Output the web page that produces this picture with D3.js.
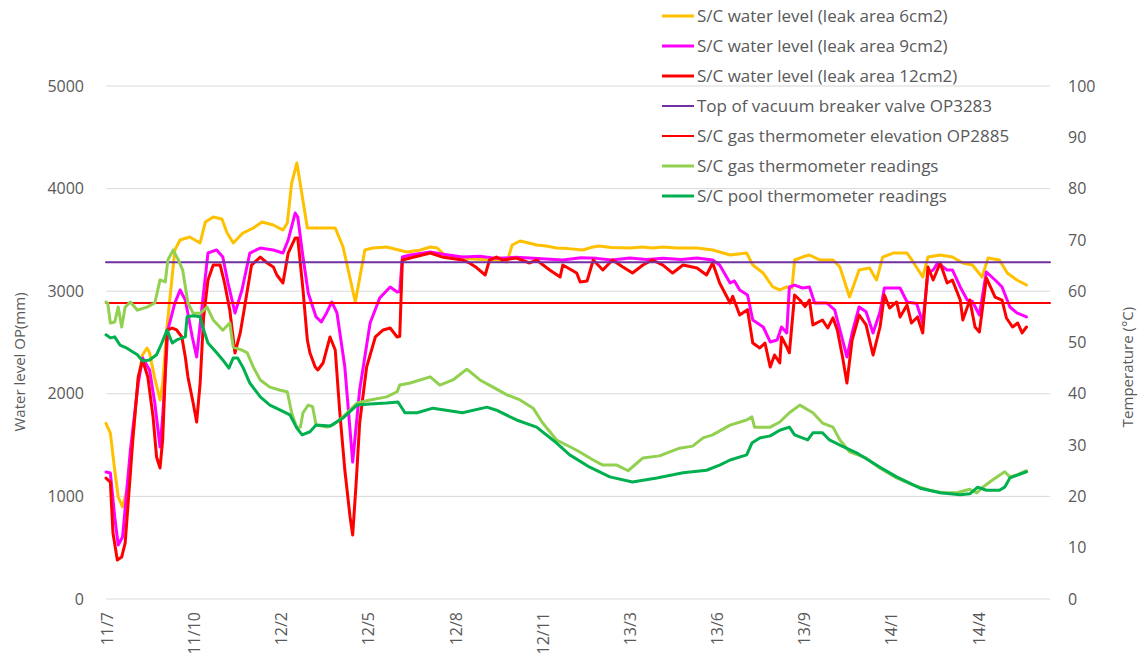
<!DOCTYPE html>
<html>
<head>
<meta charset="utf-8">
<script src="https://cdn.jsdelivr.net/npm/d3@7"></script>
<style>
  html, body { margin: 0; padding: 0; background: #ffffff; }
  svg { display: block; }
  text { font-family: "Open Sans", "DejaVu Sans", sans-serif; fill: #595959; }
</style>
</head>
<body>
<svg id="chart" width="1144" height="662"></svg>
<script>
// ---------------- DATA ----------------
// x values are days after 2011-07-16; left axis water level (mm), right axis temperature (°C)
const startDate = "2011-07-16";
const endDate = "2014-07-03";

const tickDates = ["2011-07-17","2011-10-25","2012-02-02","2012-05-12","2012-08-20","2012-11-28",
                   "2013-03-08","2013-06-16","2013-09-24","2014-01-02","2014-04-12"];
const tickLabels = ["11/7","11/10","12/2","12/5","12/8","12/11","13/3","13/6","13/9","14/1","14/4"];

const leftTicks = [0, 1000, 2000, 3000, 4000, 5000];
const rightTicks = [0, 10, 20, 30, 40, 50, 60, 70, 80, 90, 100];

const seriesNames = [
  "S/C water level (leak area 6cm2)",
  "S/C water level (leak area 9cm2)",
  "S/C water level (leak area 12cm2)",
  "Top of vacuum breaker valve OP3283",
  "S/C gas thermometer elevation OP2885",
  "S/C gas thermometer readings",
  "S/C pool thermometer readings"
];

const level6 = [[0,1712],[5,1617],[10,1257],[14,994],[19,897],[24,1062],[31,1580],[37,2150],[42,2380],[47,2446],[50,2400],[56,2150],[62,1940],[65,2100],[70,2651],[79,3402],[85,3499],[96,3528],[108,3470],[114,3675],[123,3723],[133,3703],[139,3567],[146,3470],[157,3567],[169,3616],[179,3675],[192,3645],[203,3596],[208,3665],[213,4054],[219,4250],[224,3986],[231,3616],[243,3616],[263,3616],[272,3431],[286,2895],[297,3402],[306,3421],[322,3431],[345,3382],[360,3400],[372,3431],[380,3421],[391,3333],[410,3320],[430,3310],[448,3304],[460,3285],[466,3450],[475,3489],[485,3470],[494,3450],[505,3440],[517,3421],[530,3415],[547,3402],[556,3425],[565,3440],[580,3425],[601,3421],[615,3430],[627,3420],[639,3431],[655,3420],[678,3421],[696,3402],[716,3353],[735,3372],[742,3255],[754,3177],[765,3041],[773,3012],[781,3041],[787,3031],[790,3304],[799,3333],[807,3353],[819,3304],[834,3304],[842,3236],[853,2943],[864,3207],[876,3226],[884,3109],[891,3333],[903,3372],[919,3372],[926,3285],[937,3138],[943,3333],[957,3353],[971,3333],[983,3275],[994,3255],[1005,3138],[1012,3323],[1025,3304],[1034,3177],[1045,3109],[1056,3060]];

const level9 = [[0,1238],[5,1228],[10,800],[14,526],[19,604],[28,1452],[37,2105],[42,2349],[50,2232],[56,1910],[62,1481],[65,1774],[71,2622],[79,2885],[85,3012],[91,2914],[99,2554],[104,2359],[111,2914],[117,3372],[127,3402],[134,3333],[140,3080],[148,2788],[156,3012],[165,3372],[177,3421],[192,3402],[203,3372],[209,3499],[217,3762],[220,3723],[226,3333],[232,2982],[241,2749],[247,2700],[253,2788],[259,2895],[265,2788],[274,2261],[283,1335],[291,2037],[303,2690],[314,2934],[326,3041],[334,2992],[337,3000],[340,3333],[349,3353],[372,3382],[387,3360],[409,3333],[429,3340],[448,3320],[470,3330],[486,3323],[505,3315],[524,3304],[545,3325],[563,3320],[580,3305],[601,3323],[620,3310],[639,3320],[660,3310],[678,3323],[696,3304],[704,3255],[716,3080],[721,3100],[727,3012],[736,2963],[742,2719],[754,2651],[762,2505],[770,2524],[775,2651],[781,2593],[784,3041],[790,3060],[799,3031],[807,3041],[813,2885],[827,2885],[836,2817],[842,2622],[850,2359],[856,2593],[864,2846],[872,2800],[880,2593],[888,2800],[893,3031],[903,3031],[911,3031],[919,2895],[930,2880],[937,2690],[943,3177],[949,3207],[954,3275],[965,3207],[971,3207],[980,3041],[988,2914],[994,2900],[1002,2768],[1010,3187],[1020,3109],[1028,3041],[1037,2846],[1045,2788],[1056,2749]];

const level12 = [[0,1179],[5,1140],[8,643],[13,380],[18,409],[22,546],[28,1228],[31,1579],[37,2164],[42,2330],[48,2164],[54,1774],[58,1384],[62,1277],[65,1550],[70,2622],[76,2641],[81,2622],[87,2554],[91,2359],[94,2164],[100,1910],[104,1725],[108,2105],[112,2749],[117,3109],[123,3255],[131,3255],[136,3080],[142,2817],[148,2398],[154,2593],[159,2846],[167,3255],[177,3333],[185,3275],[192,3236],[196,3158],[203,3080],[209,3372],[217,3518],[220,3518],[226,3012],[231,2524],[234,2398],[240,2261],[243,2232],[249,2300],[257,2554],[263,2427],[268,1842],[274,1257],[280,800],[283,624],[287,1131],[291,1715],[299,2261],[309,2554],[318,2622],[326,2641],[334,2554],[337,2560],[340,3304],[349,3323],[372,3372],[387,3330],[409,3304],[417,3275],[425,3230],[435,3158],[440,3304],[448,3333],[455,3304],[471,3323],[486,3275],[494,3304],[509,3207],[521,3138],[524,3255],[540,3177],[544,3090],[552,3100],[559,3304],[570,3207],[581,3304],[593,3236],[604,3177],[616,3255],[627,3304],[639,3255],[650,3177],[662,3255],[678,3226],[689,3158],[696,3275],[704,3080],[716,2885],[719,2950],[727,2768],[736,2820],[742,2495],[750,2446],[756,2495],[762,2261],[767,2378],[773,2300],[775,2554],[781,2456],[784,2400],[790,2963],[796,2914],[802,2850],[807,2914],[811,2671],[822,2719],[828,2641],[834,2740],[839,2622],[845,2359],[850,2105],[856,2524],[864,2768],[872,2671],[880,2378],[888,2651],[893,2963],[899,2836],[907,2895],[911,2749],[919,2865],[924,2690],[931,2749],[937,2593],[943,3236],[949,3109],[957,3275],[965,3080],[971,3109],[980,2914],[983,2719],[991,2914],[997,2651],[1002,2602],[1010,3129],[1020,2943],[1028,2914],[1033,2739],[1040,2651],[1046,2690],[1051,2593],[1056,2651]];

const vacuumBreakerTop = 3283;
const gasThermometerElevation = 2885;

const gasTemp = [[0,57.9],[2,57.7],[5,53.8],[10,54.0],[14,56.9],[18,53.0],[22,56.9],[28,57.9],[36,56.3],[47,56.9],[56,57.7],[62,62.2],[68,61.8],[71,66.1],[77,68.0],[83,66.1],[88,64.1],[94,57.7],[100,55.7],[108,55.7],[116,56.9],[123,54.4],[134,52.4],[142,53.8],[146,49.1],[156,48.5],[162,48.0],[169,45.2],[177,42.7],[188,41.3],[200,40.7],[208,40.4],[213,36.3],[219,33.3],[223,33.5],[226,36.3],[232,37.8],[237,37.5],[241,33.9],[253,33.5],[260,33.9],[272,35.5],[288,38.2],[303,38.8],[322,39.4],[334,40.4],[337,41.7],[349,42.1],[372,43.3],[383,41.7],[398,42.7],[414,44.8],[429,42.7],[444,41.3],[460,39.8],[475,38.8],[490,37.2],[501,34.3],[517,31.0],[540,29.0],[559,27.1],[570,26.1],[586,26.1],[599,25.0],[616,27.5],[635,27.9],[658,29.4],[673,29.8],[685,31.4],[696,32.0],[716,33.9],[735,34.9],[741,35.5],[744,33.5],[762,33.5],[773,34.5],[784,36.3],[796,37.8],[811,36.3],[822,34.3],[834,33.5],[842,31.0],[853,28.7],[872,27.5],[888,25.5],[907,23.6],[926,22.2],[945,21.2],[960,20.7],[976,20.7],[991,21.4],[999,20.7],[1006,21.8],[1017,23.2],[1031,24.8],[1037,23.8],[1045,24.2],[1056,25.0]];

const poolTemp = [[0,51.5],[5,50.9],[10,51.1],[16,49.5],[24,48.9],[36,47.6],[42,46.4],[50,46.6],[58,47.6],[64,49.9],[70,52.4],[76,49.9],[81,50.5],[91,51.1],[93,55.0],[100,55.2],[108,55.0],[111,53.0],[117,49.9],[127,48.0],[134,46.6],[141,45.0],[146,47.0],[151,47.0],[157,45.2],[165,42.1],[177,39.4],[188,37.8],[200,36.8],[211,35.9],[219,33.3],[225,32.0],[234,32.6],[241,33.9],[257,33.7],[272,35.3],[288,37.8],[303,38.0],[322,38.2],[335,38.4],[343,36.3],[357,36.3],[375,37.2],[409,36.3],[437,37.4],[448,36.8],[471,34.9],[494,33.5],[517,30.4],[532,28.1],[555,25.7],[578,23.8],[604,22.8],[632,23.6],[662,24.6],[689,25.1],[704,26.1],[716,27.1],[735,28.1],[741,30.4],[750,31.4],[762,31.8],[773,32.9],[784,33.5],[790,32.0],[805,31.0],[811,32.4],[822,32.4],[830,31.0],[842,30.0],[861,28.5],[888,25.7],[907,23.8],[934,21.6],[957,20.7],[980,20.3],[991,20.5],[1000,21.8],[1010,21.2],[1025,21.2],[1031,21.8],[1037,23.6],[1056,24.8]];

const colors = ["#FFC000", "#FF00FF", "#FF0000", "#7030A0", "#FF0000", "#92D050", "#00B050"];

// ---------------- CHART ----------------
const svg = d3.select("#chart");
const parse = d3.timeParse("%Y-%m-%d");
const t0 = parse(startDate);
const toDate = d => d3.timeDay.offset(t0, d);

const x = d3.scaleTime().domain([t0, parse(endDate)]).range([106, 1050]);
const yL = d3.scaleLinear().domain([0, 5000]).range([599, 86]);
const yR = d3.scaleLinear().domain([0, 100]).range([599, 86]);

// gridlines
svg.append("g").selectAll("line").data(leftTicks).join("line")
  .attr("x1", x.range()[0]).attr("x2", x.range()[1])
  .attr("y1", d => yL(d)).attr("y2", d => yL(d))
  .attr("stroke", "#d9d9d9").attr("stroke-width", 1);

// left axis
const axL = svg.append("g").attr("transform", `translate(${x.range()[0]},0)`)
  .call(d3.axisLeft(yL).tickValues(leftTicks).tickFormat(d3.format("d")).tickSize(0).tickPadding(22));
axL.select(".domain").remove();
axL.selectAll("text").style("font-size", "16px").attr("fill", "#595959")
  .style("font-family", "'Open Sans', sans-serif");

// right axis
const axR = svg.append("g").attr("transform", `translate(${x.range()[1]},0)`)
  .call(d3.axisRight(yR).tickValues(rightTicks).tickFormat(d3.format("d")).tickSize(0).tickPadding(18));
axR.select(".domain").remove();
axR.selectAll("text").style("font-size", "16px").attr("fill", "#595959")
  .style("font-family", "'Open Sans', sans-serif");

// bottom axis
const axB = svg.append("g").attr("transform", `translate(0,${yL(0)})`)
  .call(d3.axisBottom(x).tickValues(tickDates.map(parse)).tickSize(0)
        .tickFormat((d, i) => tickLabels[i]));
axB.select(".domain").remove();
axB.selectAll("text")
  .style("font-size", "16px").attr("fill", "#595959")
  .style("font-family", "'Open Sans', sans-serif")
  .attr("transform", "rotate(-90)")
  .attr("text-anchor", "end")
  .attr("x", -13).attr("y", 0).attr("dy", "0.35em");

// axis titles
svg.append("text").attr("transform", "translate(20,362) rotate(-90)")
  .attr("text-anchor", "middle").attr("dy", "0.35em")
  .style("font-size", "15px").text("Water level OP(mm)");
svg.append("text").attr("transform", "translate(1128,367) rotate(-90)")
  .attr("text-anchor", "middle").attr("dy", "0.35em")
  .style("font-size", "15px").text("Temperature (°C)");

// series
const lineL = d3.line().x(d => x(toDate(d[0]))).y(d => yL(d[1]));
const lineR = d3.line().x(d => x(toDate(d[0]))).y(d => yR(d[1]));

const g = svg.append("g").attr("fill", "none").attr("stroke-linejoin", "round").attr("stroke-linecap", "round");
[level6, level9, level12].forEach((s, i) => {
  g.append("path").attr("d", lineL(s)).attr("stroke", colors[i]).attr("stroke-width", 3);
});
[vacuumBreakerTop, gasThermometerElevation].forEach((v, i) => {
  g.append("line").attr("x1", x.range()[0]).attr("x2", x.range()[1])
    .attr("y1", yL(v)).attr("y2", yL(v))
    .attr("stroke", colors[3 + i]).attr("stroke-width", 2);
});
[gasTemp, poolTemp].forEach((s, i) => {
  g.append("path").attr("d", lineR(s)).attr("stroke", colors[5 + i]).attr("stroke-width", 3);
});

// legend
const leg = svg.append("g").attr("transform", "translate(662,16)");
seriesNames.forEach((name, i) => {
  const row = leg.append("g").attr("transform", `translate(0,${i * 30})`);
  row.append("line").attr("x1", 0).attr("x2", 32).attr("y1", 0).attr("y2", 0)
    .attr("stroke", colors[i]).attr("stroke-width", (i === 3 || i === 4) ? 2 : 3);
  row.append("text").attr("x", 35).attr("y", 0).attr("dy", "0.35em")
    .style("font-size", "17px").text(name);
});
</script>
</body>
</html>
